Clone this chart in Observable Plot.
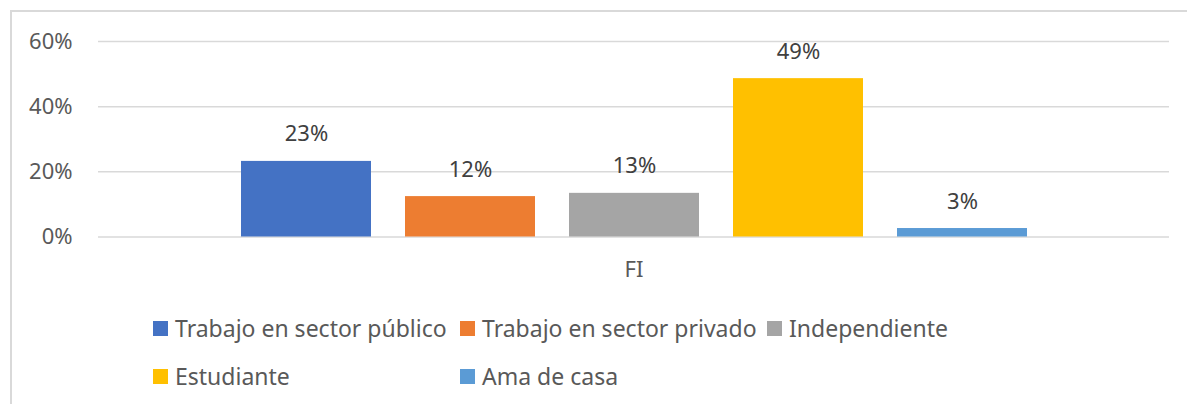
<!DOCTYPE html>
<html>
<head>
<meta charset="utf-8">
<script src="https://cdn.jsdelivr.net/npm/d3@7"></script>
<script src="https://cdn.jsdelivr.net/npm/@observablehq/plot@0.6"></script>
<style>
  body { margin: 0; background: #fff; font-family: "Noto Sans", sans-serif; }
  #wrap { position: relative; width: 1187px; height: 404px; overflow: hidden; }
  #frame { position: absolute; left: 10px; top: 10px; width: 1300px; height: 500px;
           border-left: 2px solid #d9d9d9; border-top: 2px solid #d9d9d9; pointer-events: none; }
  #legend { display: grid; grid-template-columns: 307px 307px 307px; padding-left: 153px; padding-top: 14px;
            color: #595959; font-size: 23px; }
  .item { display: flex; align-items: center; height: 48px; white-space: nowrap; }
  .sw { width: 15px; height: 15px; margin-right: 7px; flex: none; }
</style>
</head>
<body>
<div id="wrap">
  <div id="chart"></div>
  <div id="legend"></div>
  <div id="frame"></div>
</div>
<script>
const category = "FI";
const series = ["Trabajo en sector público", "Trabajo en sector privado", "Independiente", "Estudiante", "Ama de casa"];
const values = [0.232, 0.124, 0.134, 0.486, 0.026];
const colors = ["#4472C4", "#ED7D31", "#A5A5A5", "#FFC000", "#5B9BD5"];
const yTicks = [0, 0.2, 0.4, 0.6];

const data = series.map((s, i) => ({cat: category, series: s, value: values[i]}));
const pct = d3.format(".0%");

const chart = Plot.plot({
  width: 1187,
  height: 290,
  marginLeft: 98,
  marginRight: 18,
  marginTop: 41,
  marginBottom: 53.5,
  style: { fontFamily: "Noto Sans, sans-serif", fontSize: "22px", color: "#595959", background: "transparent" },
  fx: { domain: [category], paddingInner: 0, paddingOuter: 0, label: null, axis: "bottom", tickSize: 0, tickPadding: 24 },
  x: { domain: series, paddingInner: 0.2085, paddingOuter: 0.8645, axis: null },
  y: { domain: [0, 0.6], ticks: yTicks, tickFormat: pct, tickSize: 0, tickPadding: 26, label: null },
  color: { domain: series, range: colors },
  marks: [
    Plot.ruleY(yTicks, { stroke: "#d9d9d9", strokeWidth: 1.5 }),
    Plot.barY(data, { fx: "cat", x: "series", y: "value", fill: "series" }),
    Plot.text(data, { fx: "cat", x: "series", y: "value", text: d => pct(d.value), dy: -27, fill: "#404040", fontSize: 22 })
  ]
});
document.getElementById("chart").appendChild(chart);

const legend = document.getElementById("legend");
series.forEach((s, i) => {
  const item = document.createElement("div");
  item.className = "item";
  if (i === 3) item.style.gridColumn = "1";
  const sw = document.createElement("span");
  sw.className = "sw";
  sw.style.background = colors[i];
  const label = document.createElement("span");
  label.textContent = s;
  item.appendChild(sw);
  item.appendChild(label);
  legend.appendChild(item);
});
</script>
</body>
</html>
